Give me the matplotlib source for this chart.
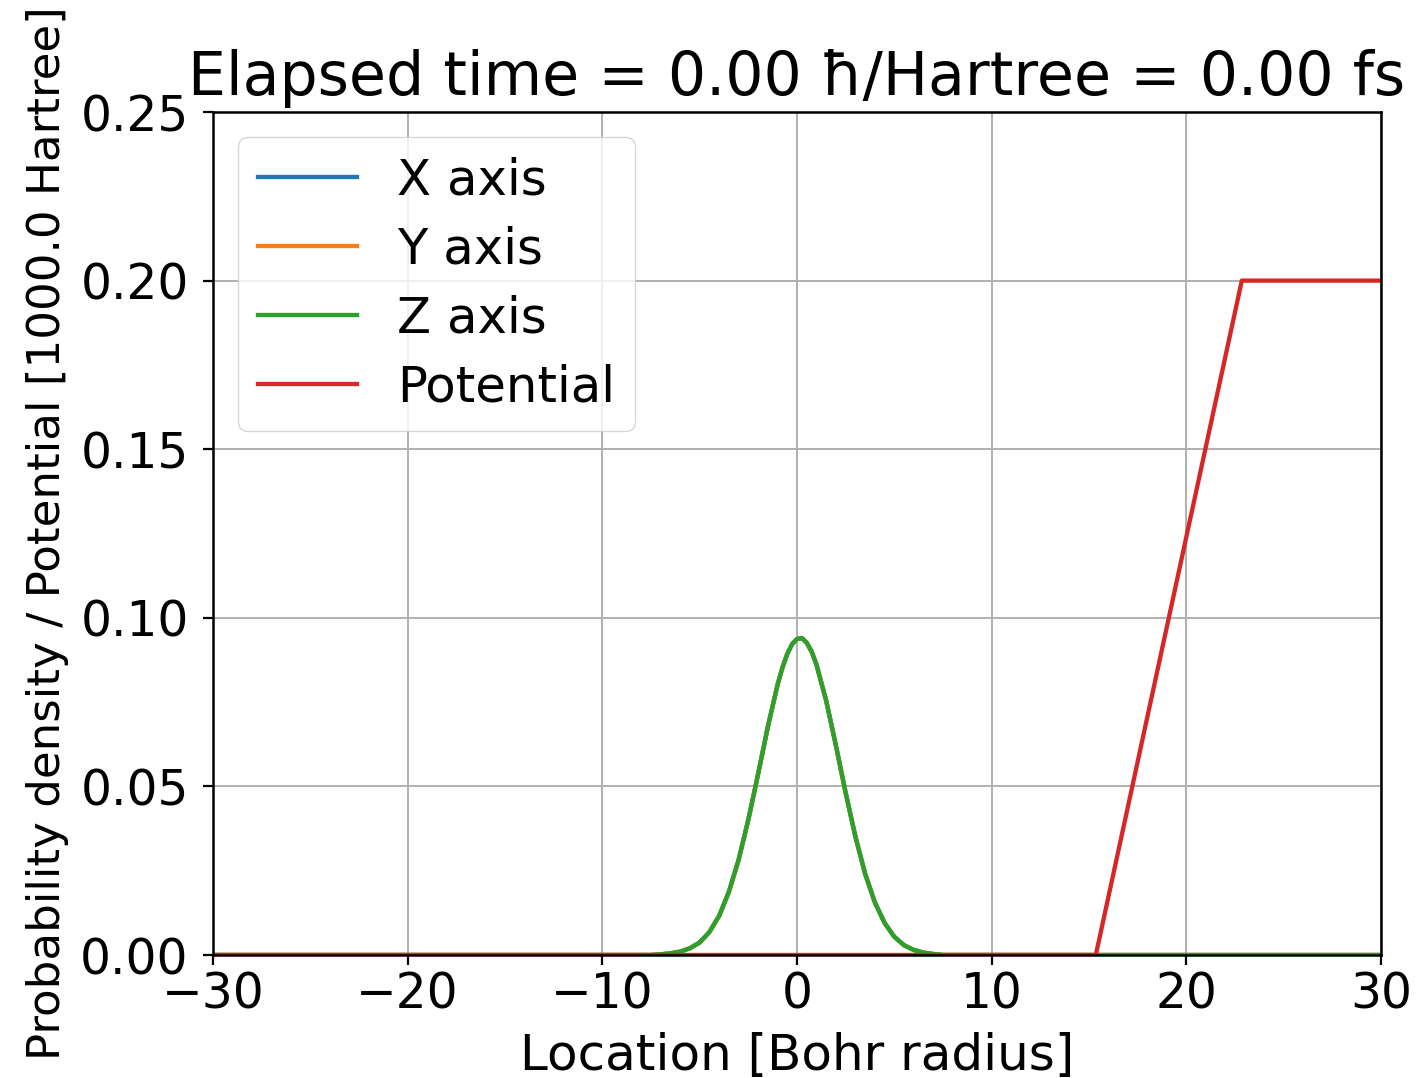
#!/usr/bin/env python3
"""Probability density / potential snapshot at t = 0."""

import matplotlib

matplotlib.use("Agg")
import matplotlib.pyplot as plt

# Gaussian wave packet (Bohr radius, density)
packet_x = [-30.0, -7.5, -7.0, -6.5, -6.0, -5.5, -5.0, -4.5, -4.0, -3.5, -3.0,
            -2.5, -2.0, -1.5, -1.0, -0.75, -0.5, -0.25, 0.0, 0.25, 0.5, 0.75,
            1.0, 1.5, 2.0, 2.5, 3.0, 3.5, 4.0, 4.5, 5.0, 5.5, 6.0, 6.5, 7.0,
            7.5, 30.0]
packet_y = [0.0, 0.0, 0.0002, 0.0005, 0.0010, 0.0020, 0.0037, 0.0068, 0.0116,
            0.0187, 0.0282, 0.0401, 0.0536, 0.0676, 0.0801, 0.0852, 0.0893,
            0.0922, 0.0937, 0.0940, 0.0926, 0.0900, 0.0861, 0.0754, 0.0621,
            0.0481, 0.0351, 0.0241, 0.0156, 0.0095, 0.0054, 0.0029, 0.0015,
            0.0007, 0.0003, 0.0, 0.0]

# Potential ramp (scaled by 1000 Hartree)
pot_x = [-30.0, 15.35, 22.85, 30.0]
pot_y = [0.0, 0.0, 0.2, 0.2]

x_ticks = [-30, -20, -10, 0, 10, 20, 30]
y_ticks = [0.00, 0.05, 0.10, 0.15, 0.20, 0.25]

FS = 35
LW = 3.1

fig = plt.figure(figsize=(14.17, 10.78), dpi=100)
ax = fig.add_axes([0.1503, 0.1141, 0.8243, 0.782])

ax.plot(packet_x, packet_y, color="tab:blue", linewidth=LW, label="X axis")
ax.plot(packet_x, packet_y, color="tab:orange", linewidth=LW, label="Y axis")
ax.plot(packet_x, packet_y, color="tab:green", linewidth=LW, label="Z axis")
ax.plot(pot_x, pot_y, color="tab:red", linewidth=LW, label="Potential")

ax.set_xlim(-30, 30)
ax.set_ylim(0, 0.25)
ax.set_xticks(x_ticks)
ax.set_yticks(y_ticks)
ax.tick_params(labelsize=FS, width=1.6, length=7.5)
ax.tick_params(axis="y", pad=10)
for sp in ax.spines.values():
    sp.set_linewidth(1.8)
ax.grid(True, color="#b0b0b0", linewidth=1.4)

ax.set_xlabel("Location [Bohr radius]", fontsize=36, labelpad=10)
ax.set_ylabel("Probability density / Potential [1000.0 Hartree]", fontsize=32.5, labelpad=8)
ax.set_title("Elapsed time = 0.00 ħ/Hartree = 0.00 fs", fontsize=43.3, pad=12)

ax.legend(loc="upper left", fontsize=35.8, handlelength=2.0,
          labelspacing=0.42, borderaxespad=0.5)

fig.savefig("out.png", dpi=100)
